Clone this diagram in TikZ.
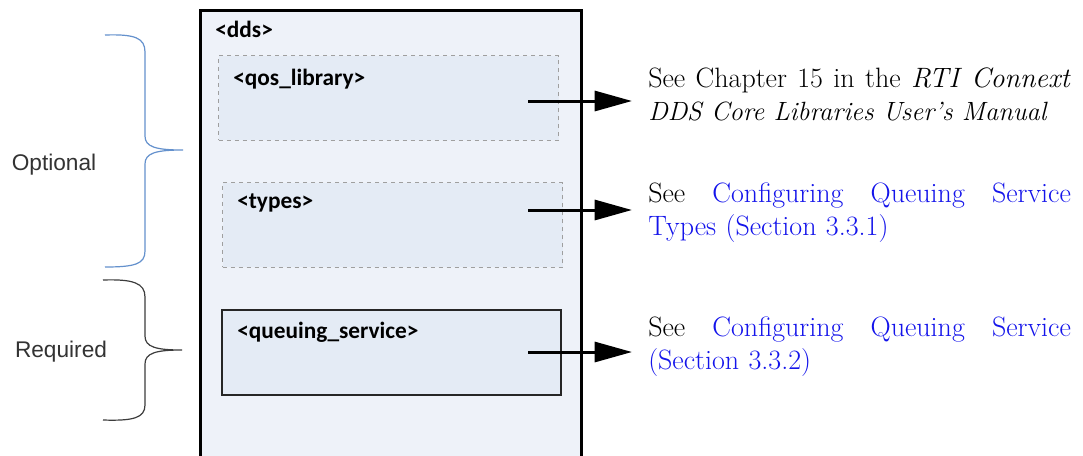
\documentclass[tikz,border=0pt]{standalone}
\usepackage{fontspec}
\usepackage{tikz}
\usetikzlibrary{arrows.meta, positioning}
\newfontfamily\tagfont{Carlito}
\newfontfamily\sidefont{Liberation Sans}
\definecolor{ddsfill}{RGB}{238,242,249}
\definecolor{boxfill}{RGB}{228,235,245}
\definecolor{linkblue}{RGB}{20,20,235}
\definecolor{bracegray}{RGB}{60,60,60}
\definecolor{braceblue}{RGB}{100,145,205}
% first line of a reference, spread over the full width
\newcommand{\spreadline}[1]{\makebox[317pt][s]{\spaceskip=0pt\xspaceskip=0pt\relax #1}}

\begin{document}
\begin{tikzpicture}[x=0.75pt, y=-0.75pt,
outer box/.style={
draw,
line width=2.25pt,
fill=ddsfill,
anchor=north west,
inner sep=0pt,
minimum width=286pt,
minimum height=350pt
},
option box/.style={
draw=gray!75,
dashed,
line width=0.75pt,
fill=boxfill,
anchor=north west,
inner sep=0pt,
minimum width=255pt,
minimum height=63.5pt
},
required box/.style={
draw=black!85,
line width=1.5pt,
fill=boxfill,
anchor=north west,
inner sep=0pt,
minimum width=254pt,
minimum height=63.5pt
},
tag/.style={anchor=west, inner sep=0pt, font=\tagfont\bfseries\fontsize{17.5}{20}\selectfont},
side/.style={inner sep=0pt, text=black!80, font=\sidefont\fontsize{17}{20}\selectfont},
see text/.style={anchor=north west, inner sep=0pt, text width=317pt, align=left,
                 font=\fontsize{21}{24.75}\selectfont},
link arrow/.style={line width=2.25pt, -{Triangle[length=28pt, width=15pt]}},
brace/.style={line width=0.9pt}
]
\useasboundingbox[fill=white] (0,0) rectangle (1083,455);

% outer element
\node[outer box] (dds) at (199,9) {};
\node[tag] (dds tag) at (215,29) {<dds>};

% child elements
\node[option box] (qos) at (218,55) {};
\node[tag] (qos tag) at (233,79) {<qos\_library>};

\node[option box] (types) at (222,182) {};
\node[tag] (types tag) at (237,203) {<types>};

\node[required box] (queue) at (221,309) {};
\node[tag] (queue tag) at (237,332) {<queuing\_service>};

% references
\node[see text] (qos text) at (648,68) {\spreadline{See Chapter 15 in the \textit{RTI Connext}}\\{\fontsize{19.8}{24.75}\selectfont\textit{DDS Core Libraries User's Manual}}};
\node[see text] (types text) at (648,183) {\spreadline{See \textcolor{linkblue}{Configuring Queuing Service}}\\\textcolor{linkblue}{Types (Section 3.3.1)}};
\node[see text] (queue text) at (648,317) {\spreadline{See \textcolor{linkblue}{Configuring Queuing Service}}\\\textcolor{linkblue}{(Section 3.3.2)}};

\coordinate (qos out) at (528,101);
\coordinate (qos in) at (632,101);
\coordinate (types out) at (528,210);
\coordinate (types in) at (632,210);
\coordinate (queue out) at (528,352);
\coordinate (queue in) at (632,352);

\draw[link arrow] (qos out) -- (qos in);
\draw[link arrow] (types out) -- (types in);
\draw[link arrow] (queue out) -- (queue in);

% braces
\draw[brace, braceblue] (105,35) .. controls (135,34) and (145,38) .. (145,52) -- (145,136)
  .. controls (145,147) and (156,150) .. (183,150)
  .. controls (156,150) and (145,153) .. (145,164) -- (145,251)
  .. controls (145,264) and (135,267) .. (105,267);
\draw[brace, bracegray] (103,280) .. controls (133,279) and (145,283) .. (145,297) -- (145,336)
  .. controls (145,347) and (156,350) .. (182,350)
  .. controls (156,350) and (145,353) .. (145,364) -- (145,405)
  .. controls (145,418) and (133,421) .. (103,420);

\node[side] (optional) at (54,165) {Optional};
\node[side] (required) at (61,352) {Required};

\end{tikzpicture}
\end{document}
